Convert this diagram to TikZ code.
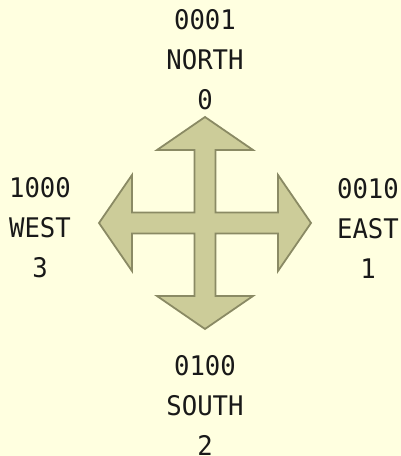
\documentclass[tikz,border=0pt]{standalone}
\usepackage{fontspec}
\newfontfamily\labelfont[FakeStretch=0.95]{DejaVu Sans Mono}
\definecolor{bgc}{HTML}{FFFFE0}
\definecolor{arrfill}{HTML}{CCCC99}
\definecolor{arrline}{HTML}{8A8A64}
\begin{document}
\begin{tikzpicture}[x=1pt,y=1pt,
  dirlabel/.style={align=center, inner sep=0pt, text=black!90,
    font=\labelfont\fontsize{27}{40}\selectfont}]
\fill[bgc] (0,0) rectangle (401,456);
\useasboundingbox (0,0) rectangle (401,456);
\begin{scope}[shift={(205,233)}]
\filldraw[fill=arrfill, draw=arrline, line width=1.8pt, line join=miter]
 (0,106) -- (48,73) -- (10.5,73) -- (10.5,10.5) -- (73,10.5) -- (73,48) -- (106,0)
 -- (73,-48) -- (73,-10.5) -- (10.5,-10.5) -- (10.5,-73) -- (48,-73) -- (0,-106)
 -- (-48,-73) -- (-10.5,-73) -- (-10.5,-10.5) -- (-73,-10.5) -- (-73,-48) -- (-106,0)
 -- (-73,48) -- (-73,10.5) -- (-10.5,10.5) -- (-10.5,73) -- (-48,73) -- cycle;
\end{scope}
\node[dirlabel] (north) at (205,396) {0001\\NORTH\\0};
\node[dirlabel] (south) at (205,51) {0100\\SOUTH\\2};
\node[dirlabel] (west) at (40,228) {1000\\WEST\\3};
\node[dirlabel] (east) at (368,228) {0010\\EAST\\1};
\end{tikzpicture}
\end{document}
